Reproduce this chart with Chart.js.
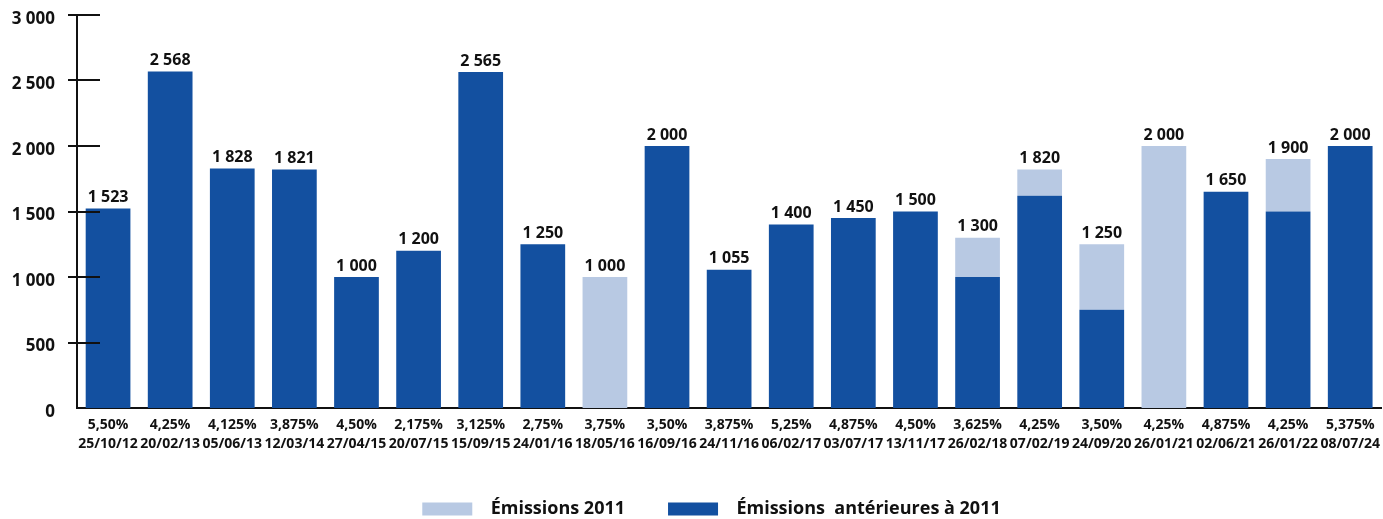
<!DOCTYPE html>
<html>
<head>
<meta charset="utf-8">
<script src="https://cdn.jsdelivr.net/npm/chart.js@4.4.1/dist/chart.umd.min.js"></script>
<style>
    html, body { margin: 0; padding: 0; background: #fff; }
    #wrap { width: 1383px; height: 519px; }
</style>
</head>
<body>
<div id="wrap"><canvas id="chart"></canvas></div>
<script>
// Bond issues: rate + issue date, amounts in millions
const rates = ['5,50%', '4,25%', '4,125%', '3,875%', '4,50%', '2,175%', '3,125%', '2,75%', '3,75%', '3,50%',
    '3,875%', '5,25%', '4,875%', '4,50%', '3,625%', '4,25%', '3,50%', '4,25%', '4,875%', '4,25%', '5,375%'];
const dates = ['25/10/12', '20/02/13', '05/06/13', '12/03/14', '27/04/15', '20/07/15', '15/09/15', '24/01/16', '18/05/16', '16/09/16',
    '24/11/16', '06/02/17', '03/07/17', '13/11/17', '26/02/18', '07/02/19', '24/09/20', '26/01/21', '02/06/21', '26/01/22', '08/07/24'];
const before2011 = [1523, 2568, 1828, 1821, 1000, 1200, 2565, 1250, 0, 2000,
    1055, 1400, 1450, 1500, 1000, 1620, 750, 0, 1650, 1500, 2000];
const issues2011 = [0, 0, 0, 0, 0, 0, 0, 0, 1000, 0,
    0, 0, 0, 0, 300, 200, 500, 2000, 0, 400, 0];
const yTicks = [0, 500, 1000, 1500, 2000, 2500, 3000];

const DARK = 'rgb(19, 80, 160)';
const LIGHT = 'rgb(184, 201, 227)';
const FONT = '"Open Sans", "DejaVu Sans", sans-serif';

function fmt(v) {
    return String(v).replace(/\B(?=(\d{3})+(?!\d))/g, ' ');
}

// totals written above each bar
const totalLabels = {
    id: 'totalLabels',
    afterDatasetsDraw(chart) {
        const ctx = chart.ctx;
        const meta0 = chart.getDatasetMeta(0);
        const y = chart.scales.y;
        ctx.save();
        ctx.font = 'bold 16px ' + FONT;
        ctx.fillStyle = '#111';
        ctx.textAlign = 'center';
        ctx.textBaseline = 'bottom';
        meta0.data.forEach((bar, i) => {
            const total = before2011[i] + issues2011[i];
            ctx.fillText(fmt(total), bar.x, y.getPixelForValue(total) - 3);
        });
        ctx.restore();
    }
};

// tick marks crossing the y axis
const yTickMarks = {
    id: 'yTickMarks',
    afterDraw(chart) {
        const ctx = chart.ctx;
        const y = chart.scales.y;
        const x0 = chart.chartArea.left;
        ctx.save();
        ctx.strokeStyle = '#111';
        ctx.lineWidth = 2;
        yTicks.forEach(v => {
            if (v === 0) return;
            const py = Math.round(y.getPixelForValue(v));
            ctx.beginPath();
            ctx.moveTo(x0 - 9, py);
            ctx.lineTo(x0 + 23, py);
            ctx.stroke();
        });
        ctx.restore();
    }
};

// legend sits a little right of centre in the original
const legendShift = {
    id: 'legendShift',
    afterLayout(chart) {
        chart.legend.left += 20;
        chart.legend.right += 20;
    }
};

new Chart(document.getElementById('chart'), {
    type: 'bar',
    data: {
        labels: rates.map((r, i) => [r, dates[i]]),
        datasets: [{
            label: '  Émissions  antérieures à 2011',
            data: before2011,
            backgroundColor: DARK,
            barPercentage: 0.72,
            categoryPercentage: 1
        }, {
            label: '  Émissions 2011',
            data: issues2011,
            backgroundColor: LIGHT,
            barPercentage: 0.72,
            categoryPercentage: 1
        }]
    },
    plugins: [totalLabels, yTickMarks, legendShift],
    options: {
        responsive: true,
        maintainAspectRatio: false,
        animation: false,
        layout: {
            padding: { top: 15, right: 0, left: 0, bottom: -9 }
        },
        scales: {
            x: {
                stacked: true,
                grid: { display: false, tickLength: 5 },
                border: { display: true, color: '#111', width: 2 },
                ticks: {
                    color: '#111',
                    padding: 3,
                    maxRotation: 0,
                    autoSkip: false,
                    font: { family: FONT, weight: 'bold', size: 14, lineHeight: 1.35 }
                },
                afterFit(scale) { scale.height = 49; }
            },
            y: {
                stacked: true,
                min: 0,
                max: 3000,
                afterBuildTicks(scale) { scale.ticks = yTicks.map(v => ({ value: v })); },
                grid: { display: false, tickLength: 22 },
                border: { display: true, color: '#111', width: 2 },
                ticks: {
                    color: '#111',
                    padding: 0,
                    labelOffset: 4,
                    font: { family: FONT, weight: 'bold', size: 17 },
                    callback: v => fmt(v)
                },
                afterFit(scale) { scale.width = 77; }
            }
        },
        plugins: {
            legend: {
                position: 'bottom',
                reverse: true,
                labels: {
                    boxWidth: 50,
                    boxHeight: 13,
                    padding: 43,
                    color: '#111',
                    font: { family: FONT, weight: 'bold', size: 18 }
                }
            },
            tooltip: { enabled: false }
        }
    }
});
</script>
</body>
</html>
